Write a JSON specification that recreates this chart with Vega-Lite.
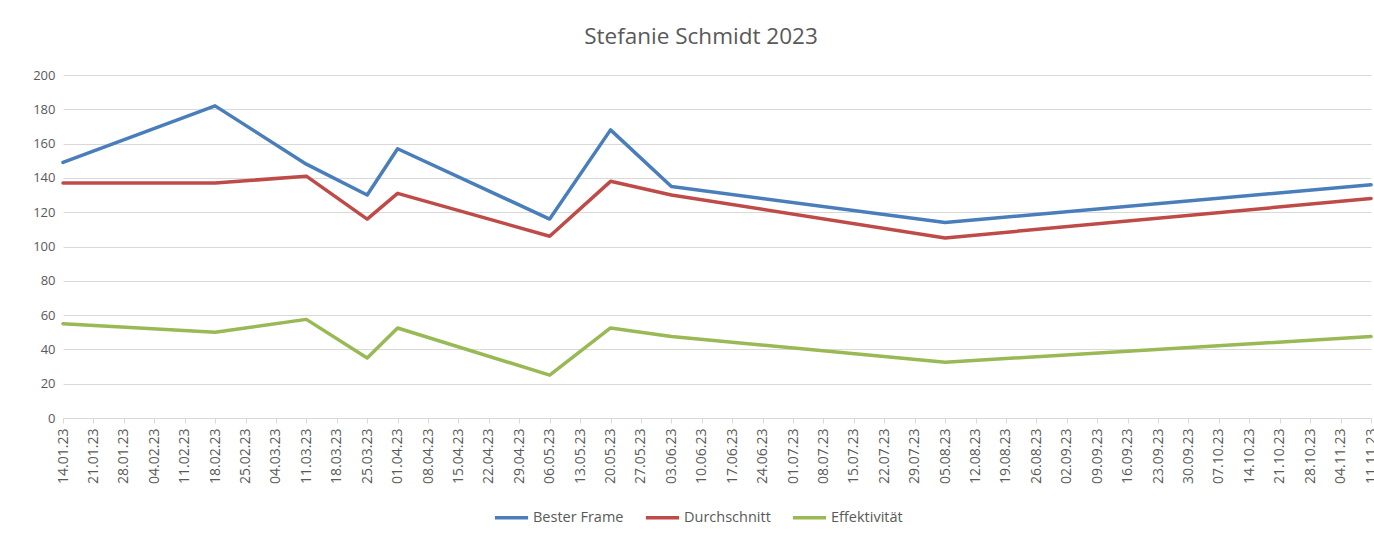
{
  "$schema": "https://vega.github.io/schema/vega-lite/v6.json",
  "width": 1308,
  "height": 343,
  "autosize": {"type": "none"},
  "padding": {"left": 63, "top": 75, "right": 3, "bottom": 119},
  "background": "white",
  "title": {
    "text": "Stefanie Schmidt 2023",
    "font": "Open Sans",
    "fontSize": 22.5,
    "fontWeight": "normal",
    "color": "#595959",
    "anchor": "middle",
    "dx": -16,
    "offset": 21
  },
  "config": {
    "view": {"stroke": null},
    "font": "Open Sans"
  },
  "data": {
    "values": [
      {"Datum": "2023-01-14", "Reihe": "Bester Frame", "Wert": 149},
      {"Datum": "2023-02-18", "Reihe": "Bester Frame", "Wert": 182},
      {"Datum": "2023-03-11", "Reihe": "Bester Frame", "Wert": 148},
      {"Datum": "2023-03-25", "Reihe": "Bester Frame", "Wert": 130},
      {"Datum": "2023-04-01", "Reihe": "Bester Frame", "Wert": 157},
      {"Datum": "2023-05-06", "Reihe": "Bester Frame", "Wert": 116},
      {"Datum": "2023-05-20", "Reihe": "Bester Frame", "Wert": 168},
      {"Datum": "2023-06-03", "Reihe": "Bester Frame", "Wert": 135},
      {"Datum": "2023-08-05", "Reihe": "Bester Frame", "Wert": 114},
      {"Datum": "2023-11-11", "Reihe": "Bester Frame", "Wert": 136},
      {"Datum": "2023-01-14", "Reihe": "Durchschnitt", "Wert": 137},
      {"Datum": "2023-02-18", "Reihe": "Durchschnitt", "Wert": 137},
      {"Datum": "2023-03-11", "Reihe": "Durchschnitt", "Wert": 141},
      {"Datum": "2023-03-25", "Reihe": "Durchschnitt", "Wert": 116},
      {"Datum": "2023-04-01", "Reihe": "Durchschnitt", "Wert": 131},
      {"Datum": "2023-05-06", "Reihe": "Durchschnitt", "Wert": 106},
      {"Datum": "2023-05-20", "Reihe": "Durchschnitt", "Wert": 138},
      {"Datum": "2023-06-03", "Reihe": "Durchschnitt", "Wert": 130},
      {"Datum": "2023-08-05", "Reihe": "Durchschnitt", "Wert": 105},
      {"Datum": "2023-11-11", "Reihe": "Durchschnitt", "Wert": 128},
      {"Datum": "2023-01-14", "Reihe": "Effektivität", "Wert": 55},
      {"Datum": "2023-02-18", "Reihe": "Effektivität", "Wert": 50},
      {"Datum": "2023-03-11", "Reihe": "Effektivität", "Wert": 57.5},
      {"Datum": "2023-03-25", "Reihe": "Effektivität", "Wert": 35},
      {"Datum": "2023-04-01", "Reihe": "Effektivität", "Wert": 52.5},
      {"Datum": "2023-05-06", "Reihe": "Effektivität", "Wert": 25},
      {"Datum": "2023-05-20", "Reihe": "Effektivität", "Wert": 52.5},
      {"Datum": "2023-06-03", "Reihe": "Effektivität", "Wert": 47.5},
      {"Datum": "2023-08-05", "Reihe": "Effektivität", "Wert": 32.5},
      {"Datum": "2023-11-11", "Reihe": "Effektivität", "Wert": 47.5}
    ]
  },
  "mark": {"type": "line", "strokeWidth": 3.5, "strokeJoin": "round", "strokeCap": "round"},
  "encoding": {
    "x": {
      "field": "Datum",
      "type": "temporal",
      "scale": {
        "type": "utc",
        "domain": [
          {"year": 2023, "month": 1, "date": 14, "utc": true},
          {"year": 2023, "month": 11, "date": 11, "utc": true}
        ]
      },
      "axis": {
        "title": null,
        "format": "%d.%m.%y",
        "labelAngle": -90,
        "labelAlign": "right",
        "labelBaseline": "middle",
        "labelFont": "Open Sans",
        "labelFontSize": 14,
        "labelColor": "#595959",
        "labelPadding": 5,
        "labelOverlap": false,
        "labelFlush": false,
        "domainColor": "#d9d9d9",
        "tickColor": "#d9d9d9",
        "tickSize": 5,
        "grid": false,
        "values": [
          {"year": 2023, "month": 1, "date": 14, "utc": true},
          {"year": 2023, "month": 1, "date": 21, "utc": true},
          {"year": 2023, "month": 1, "date": 28, "utc": true},
          {"year": 2023, "month": 2, "date": 4, "utc": true},
          {"year": 2023, "month": 2, "date": 11, "utc": true},
          {"year": 2023, "month": 2, "date": 18, "utc": true},
          {"year": 2023, "month": 2, "date": 25, "utc": true},
          {"year": 2023, "month": 3, "date": 4, "utc": true},
          {"year": 2023, "month": 3, "date": 11, "utc": true},
          {"year": 2023, "month": 3, "date": 18, "utc": true},
          {"year": 2023, "month": 3, "date": 25, "utc": true},
          {"year": 2023, "month": 4, "date": 1, "utc": true},
          {"year": 2023, "month": 4, "date": 8, "utc": true},
          {"year": 2023, "month": 4, "date": 15, "utc": true},
          {"year": 2023, "month": 4, "date": 22, "utc": true},
          {"year": 2023, "month": 4, "date": 29, "utc": true},
          {"year": 2023, "month": 5, "date": 6, "utc": true},
          {"year": 2023, "month": 5, "date": 13, "utc": true},
          {"year": 2023, "month": 5, "date": 20, "utc": true},
          {"year": 2023, "month": 5, "date": 27, "utc": true},
          {"year": 2023, "month": 6, "date": 3, "utc": true},
          {"year": 2023, "month": 6, "date": 10, "utc": true},
          {"year": 2023, "month": 6, "date": 17, "utc": true},
          {"year": 2023, "month": 6, "date": 24, "utc": true},
          {"year": 2023, "month": 7, "date": 1, "utc": true},
          {"year": 2023, "month": 7, "date": 8, "utc": true},
          {"year": 2023, "month": 7, "date": 15, "utc": true},
          {"year": 2023, "month": 7, "date": 22, "utc": true},
          {"year": 2023, "month": 7, "date": 29, "utc": true},
          {"year": 2023, "month": 8, "date": 5, "utc": true},
          {"year": 2023, "month": 8, "date": 12, "utc": true},
          {"year": 2023, "month": 8, "date": 19, "utc": true},
          {"year": 2023, "month": 8, "date": 26, "utc": true},
          {"year": 2023, "month": 9, "date": 2, "utc": true},
          {"year": 2023, "month": 9, "date": 9, "utc": true},
          {"year": 2023, "month": 9, "date": 16, "utc": true},
          {"year": 2023, "month": 9, "date": 23, "utc": true},
          {"year": 2023, "month": 9, "date": 30, "utc": true},
          {"year": 2023, "month": 10, "date": 7, "utc": true},
          {"year": 2023, "month": 10, "date": 14, "utc": true},
          {"year": 2023, "month": 10, "date": 21, "utc": true},
          {"year": 2023, "month": 10, "date": 28, "utc": true},
          {"year": 2023, "month": 11, "date": 4, "utc": true},
          {"year": 2023, "month": 11, "date": 11, "utc": true}
        ]
      }
    },
    "y": {
      "field": "Wert",
      "type": "quantitative",
      "scale": {"domain": [0, 200], "nice": false},
      "axis": {
        "title": null,
        "values": [0, 20, 40, 60, 80, 100, 120, 140, 160, 180, 200],
        "labelFont": "Open Sans",
        "labelFontSize": 13,
        "labelColor": "#595959",
        "labelPadding": 8,
        "domain": false,
        "ticks": false,
        "gridColor": "#d9d9d9",
        "gridWidth": 1
      }
    },
    "color": {
      "field": "Reihe",
      "type": "nominal",
      "scale": {
        "domain": ["Bester Frame", "Durchschnitt", "Effektivität"],
        "range": ["#4a7ebb", "#be4b48", "#98b954"]
      },
      "legend": {
        "title": null,
        "orient": "none",
        "direction": "horizontal",
        "legendX": 430,
        "legendY": 424,
        "symbolType": "stroke",
        "symbolSize": 1100,
        "symbolStrokeWidth": 3.5,
        "labelFont": "Open Sans",
        "labelFontSize": 14.5,
        "labelColor": "#595959",
        "labelOffset": 3,
        "columnPadding": 14
      }
    }
  }
}
